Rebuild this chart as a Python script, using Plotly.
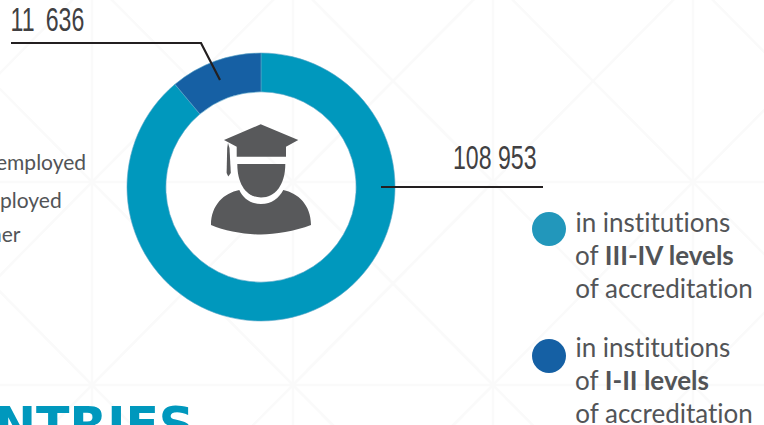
import plotly.graph_objects as go

W, H = 764, 425

# Data: arc shares are read from the drawn ring (boundary about 40 degrees from the top)
slice_names = ["in institutions of III-IV levels of accreditation", "in institutions of I-II levels of accreditation"]
slice_shares = [88.9, 11.1]
slice_colors = ["#0098bd", "#1660a4"]
value_labels = ["11 636", "108 953"]
legend_colors = ["#2297bb", "#1560a4"]
legend_lines = [["in institutions", "of <b>III-IV levels</b>", "of accreditation"],
                ["in institutions", "of <b>I-II levels</b>", "of accreditation"]]
side_labels = ["employed", "ployed", "her"]
heading = "NTRIES"

INK = "#58595b"
TEXT = "#525457"


def px(x):
    return x / W


def py(y):
    return 1 - y / H


def path(*parts):
    out = []
    for p in parts:
        if isinstance(p, str):
            out.append(p)
        else:
            out.append(f"{px(p[0]):.5f},{py(p[1]):.5f}")
    return " ".join(out)


shapes = []
# faint background lattice
LAT = "#fafafa"
xs = [-108, 92, 293, 493, 693, 893]
ys = [-20, 182, 385, 587]
for x in xs[1:-1]:
    shapes.append(dict(type="line", xref="paper", yref="paper", x0=px(x), x1=px(x), y0=0, y1=1,
                       line=dict(color=LAT, width=2.5), layer="below"))
for y in ys[1:-1]:
    shapes.append(dict(type="line", xref="paper", yref="paper", x0=0, x1=1, y0=py(y), y1=py(y),
                       line=dict(color=LAT, width=2.5), layer="below"))
for i in range(len(xs) - 1):
    for j in range(len(ys) - 1):
        shapes.append(dict(type="line", xref="paper", yref="paper", x0=px(xs[i]), x1=px(xs[i + 1]),
                           y0=py(ys[j]), y1=py(ys[j + 1]), line=dict(color=LAT, width=2.5), layer="below"))
        shapes.append(dict(type="line", xref="paper", yref="paper", x0=px(xs[i]), x1=px(xs[i + 1]),
                           y0=py(ys[j + 1]), y1=py(ys[j]), line=dict(color=LAT, width=2.5), layer="below"))

# leader lines
LEAD = "#231f20"
shapes.append(dict(type="path", xref="paper", yref="paper",
                   path=path("M", (11, 43), "L", (201, 43), "L", (220, 80)),
                   line=dict(color=LEAD, width=2.2), layer="above"))
shapes.append(dict(type="line", xref="paper", yref="paper", x0=px(381), x1=px(543), y0=py(187), y1=py(187),
                   line=dict(color=LEAD, width=2.2), layer="above"))

# legend dots
for cy, col in zip([229, 356], legend_colors):
    shapes.append(dict(type="circle", xref="paper", yref="paper", x0=px(532), x1=px(566),
                       y0=py(cy + 17), y1=py(cy - 17), fillcolor=col, line=dict(width=0), layer="above"))

# graduate icon
icon = [
    path("M", (260.7, 124.3), "L", (298.3, 140), "L", (286, 146.7), "L", (286, 156.7), "L", (236.7, 156.7),
         "L", (236.7, 146.7), "L", (224, 140), "Z"),
    path("M", (228, 143), "L", (229.5, 148), "L", (230.8, 173), "L", (228.3, 176.5), "L", (226.6, 173),
         "L", (227.2, 148), "Z"),
    path("M", (237.3, 164), "L", (285.3, 164), "C", (285.3, 185), (275, 197.5), (261, 197.5),
         "C", (247, 197.5), (237.3, 185), (237.3, 164), "Z"),
    path("M", (239.3, 190), "C", (243, 198), (250, 204), (261, 204), "C", (272, 204), (279, 198), (283.3, 190),
         "C", (298, 193), (311, 205), (311, 225), "C", (295, 231), (275, 234.5), (261, 234.5),
         "C", (245, 234.5), (225, 231), (211, 225), "C", (211, 205), (224, 193), (239.3, 190), "Z"),
]
for d in icon:
    shapes.append(dict(type="path", xref="paper", yref="paper", path=d, fillcolor=INK,
                       line=dict(width=0), layer="above"))


def note(text, x, y, size, color=TEXT, family="Lato", xanchor="left"):
    return dict(text=text, xref="paper", yref="paper", x=px(x), y=py(y), xanchor=xanchor, yanchor="middle",
                showarrow=False, font=dict(family=family, size=size, color=color), borderpad=0, borderwidth=0)


annotations = [
    note(value_labels[0], 14, 19, 34, "#414042", "Liberation Sans"),
    note(value_labels[1], 453, 157, 34, "#414042", "Liberation Sans"),
]
for lines, y0 in zip(legend_lines, [222, 347]):
    for k, t in enumerate(lines):
        annotations.append(note(t, 575, y0 + k * 33, 26))
for t, xr, y in zip(side_labels, [86, 62, 21], [162, 199, 234]):
    annotations.append(note(t, xr, y, 21, xanchor="right"))
annotations.append(note(f"<b>{heading}</b>", -5, 425, 49, "#0098bd", "DejaVu Sans"))

fig = go.Figure(go.Pie(
    labels=slice_names, values=slice_shares, sort=False, direction="clockwise", rotation=0,
    hole=0.71, textinfo="none", hoverinfo="label",
    marker=dict(colors=slice_colors, line=dict(color="#5aa6c8", width=0.6)),
    domain=dict(x=[127 / W, 395 / W], y=[1 - 321 / H, 1 - 53 / H]),
    showlegend=False,
))
fig.update_layout(width=W, height=H, margin=dict(l=0, r=0, t=0, b=0), paper_bgcolor="white",
                  shapes=shapes, annotations=annotations, showlegend=False)

# No condensed face is installed: narrow the two value labels horizontally; drop Lato's "ti" ligature
post = """
document.body.style.margin='0';document.body.style.overflow='hidden';
document.querySelectorAll('.annotation-text-g text').forEach(function(t){
  t.style.fontVariantLigatures='none';
  if(t.textContent==='11 636'||t.textContent==='108 953'){
    if(t.textContent==='11 636'){t.style.wordSpacing='7px';}
    var x=t.getBBox().x;
    t.setAttribute('transform','translate('+x+' 0) scale(0.68 1) translate('+(-x)+' 0)');
  }
});
"""
fig.write_html("out.html", config=dict(displayModeBar=False), post_script=post)
